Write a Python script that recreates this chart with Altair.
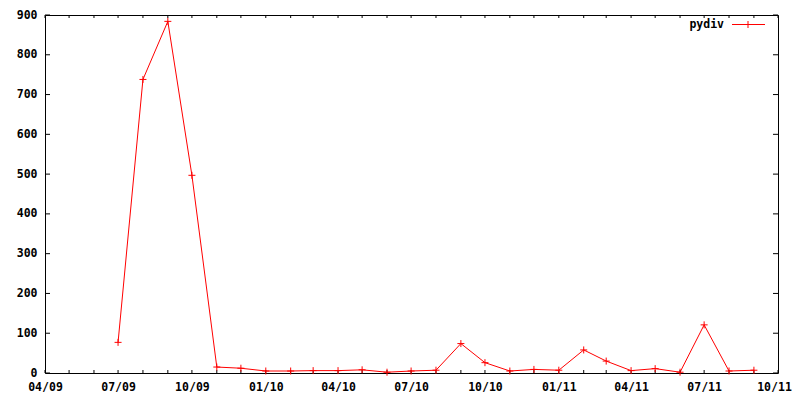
import altair as alt
import pandas as pd

# Monthly values
months = ["2009-07-01", "2009-08-01", "2009-09-01", "2009-10-01", "2009-11-01", "2009-12-01",
          "2010-01-01", "2010-02-01", "2010-03-01", "2010-04-01", "2010-05-01", "2010-06-01",
          "2010-07-01", "2010-08-01", "2010-09-01", "2010-10-01", "2010-11-01", "2010-12-01",
          "2011-01-01", "2011-02-01", "2011-03-01", "2011-04-01", "2011-05-01", "2011-06-01",
          "2011-07-01", "2011-08-01", "2011-09-01"]
pydiv = [77, 738, 884, 497, 15, 12,
         5, 5, 6, 6, 8, 2,
         5, 7, 74, 26, 5, 9,
         7, 58, 30, 6, 11, 2,
         121, 5, 7]

y_ticks = [0, 100, 200, 300, 400, 500, 600, 700, 800, 900]
x_tick_months = pd.date_range("2009-04-01", "2011-10-01", freq="MS").strftime("%Y-%m-%d").tolist()
x_label_months = [(2009, 4), (2009, 7), (2009, 10), (2010, 1), (2010, 4), (2010, 7),
                  (2010, 10), (2011, 1), (2011, 4), (2011, 7), (2011, 10)]
series_name = "pydiv"

W, H = 733, 358
FONT = "DejaVu Sans Mono"
FS = 11.5

df = pd.DataFrame({"date": months, "value": pydiv})
xt = pd.DataFrame({"date": x_tick_months})
yt = pd.DataFrame({"v": y_ticks})

xscale = alt.Scale(type="utc", domain=[alt.DateTime(year=2009, month=4, date=1, utc=True),
                                       alt.DateTime(year=2011, month=10, date=1, utc=True)])
yscale = alt.Scale(domain=[0, 900], nice=False, zero=False)

xaxis = alt.Axis(values=[alt.DateTime(year=y, month=m, date=1, utc=True) for y, m in x_label_months],
                 labelExpr="utcFormat(datum.value, '%m/%y')", title=None, grid=False, ticks=False,
                 domain=False, tickSize=0, labelPadding=8, labelFont=FONT, labelFontSize=FS,
                 labelFontWeight="bold", labelColor="black", labelFlush=False, labelOverlap=False,
                 labelOffset={"condition": {"test": "datum.value > 1317000000000", "value": -4},
                              "value": 0})
yaxis = alt.Axis(values=y_ticks, title=None, grid=False, ticks=False, domain=False, tickSize=0,
                 labelPadding=8, labelFont=FONT, labelFontSize=FS, labelFontWeight="bold",
                 labelColor="black", labelOverlap=False)

line = alt.Chart(df).mark_line(color="#ff0000", strokeWidth=1).encode(
    x=alt.X("date:T", scale=xscale, axis=xaxis),
    y=alt.Y("value:Q", scale=yscale, axis=yaxis),
)
pts = alt.Chart(df).mark_point(shape="M-1,0H1M0,-1V1", size=49, filled=False,
                               color="#ff0000", strokeWidth=1, opacity=1).encode(
    x=alt.X("date:T", scale=xscale, axis=xaxis),
    y=alt.Y("value:Q", scale=yscale, axis=yaxis),
)

xt_bot = alt.Chart(xt).mark_rule(color="black", strokeWidth=1).encode(
    x=alt.X("date:T", scale=xscale, axis=xaxis), y=alt.value(H), y2=alt.value(H - 3))
xt_top = alt.Chart(xt).mark_rule(color="black", strokeWidth=1).encode(
    x=alt.X("date:T", scale=xscale, axis=xaxis), y=alt.value(0), y2=alt.value(3))
yt_left = alt.Chart(yt).mark_rule(color="black", strokeWidth=1).encode(
    y=alt.Y("v:Q", scale=yscale, axis=yaxis), x=alt.value(0), x2=alt.value(5))
yt_right = alt.Chart(yt).mark_rule(color="black", strokeWidth=1).encode(
    y=alt.Y("v:Q", scale=yscale, axis=yaxis), x=alt.value(W), x2=alt.value(W - 5))

leg_df = pd.DataFrame({"name": [series_name]})
leg_text = alt.Chart(leg_df).mark_text(align="right", baseline="middle", font=FONT, fontSize=FS,
                                       fontWeight="bold", color="black").encode(
    text="name:N", x=alt.value(679), y=alt.value(10))
leg_line = alt.Chart(leg_df).mark_rule(color="#ff0000", strokeWidth=1).encode(
    x=alt.value(687), x2=alt.value(720), y=alt.value(9.5))
leg_pt = alt.Chart(leg_df).mark_point(shape="M-1,0H1M0,-1V1", size=49, filled=False,
                                      color="#ff0000", strokeWidth=1, opacity=1).encode(
    x=alt.value(703), y=alt.value(9.5))

chart = alt.layer(line, xt_bot, xt_top, yt_left, yt_right, pts, leg_line, leg_pt, leg_text).properties(
    width=W, height=H,
    autosize=alt.AutoSizeParams(type="none"),
    padding={"left": 37, "top": 7, "right": 14, "bottom": 19},
    background="white",
).configure_view(stroke="black", strokeWidth=1)

chart.save("out.html", embed_options={"renderer": "svg", "actions": False})
